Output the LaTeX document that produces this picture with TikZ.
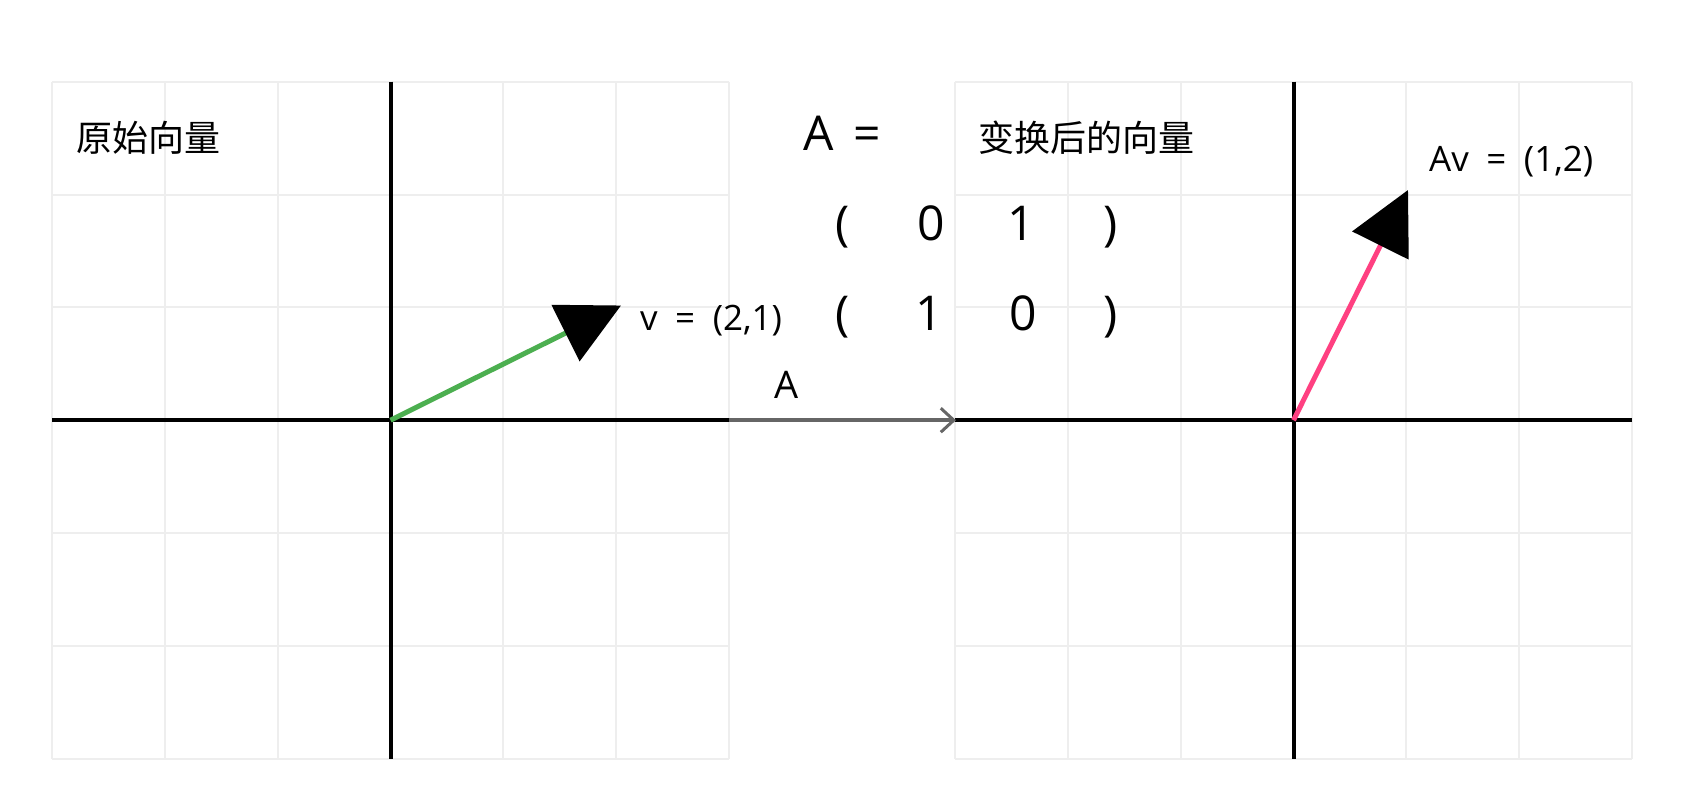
\documentclass[tikz,border=0pt]{standalone}
\usepackage{fontspec}
\setmainfont{Open Sans}
\newfontfamily\cjk{Noto Sans CJK SC}
\usetikzlibrary{arrows.meta}
\definecolor{gridgray}{HTML}{EEEEEE}
\definecolor{vgreen}{HTML}{4CAF50}
\definecolor{vpink}{HTML}{FF4081}
\definecolor{arrgray}{HTML}{666666}
\newcommand{\wsp}{\hspace{0.5em}}
\begin{document}
\begin{tikzpicture}[x=1pt,y=-1pt,
  gridline/.style={draw=gridgray,line width=2pt},
  axisline/.style={draw=black,line width=4pt},
  vec/.style={line width=5pt,-{Triangle[length=62pt,width=62pt,color=black]}},
  maparrow/.style={draw=arrgray,line width=3.5pt,-{Straight Barb[length=13pt,width=24pt,line width=3pt]}},
  title/.style={inner sep=0pt,anchor=base west,font=\cjk\fontsize{36}{40}\selectfont},
  lbl/.style={inner sep=0pt,anchor=base west,font=\fontsize{35}{40}\selectfont},
  big/.style={inner sep=0pt,anchor=base,font=\fontsize{48}{56}\selectfont}]
\useasboundingbox (0,0) rectangle (1696,796);
\fill[white] (0,0) rectangle (1696,796);
\def\u{112.83}
% grids
\foreach \k in {0,...,6}{
  \draw[gridline] ({52+\k*\u},81.7) -- ({52+\k*\u},758.7);
  \draw[gridline] (52,{81.7+\k*\u}) -- (729,{81.7+\k*\u});
  \draw[gridline] ({955+\k*\u},81.7) -- ({955+\k*\u},758.7);
  \draw[gridline] (955,{81.7+\k*\u}) -- (1632,{81.7+\k*\u});
}
% axes
\draw[axisline] (52,420.2) -- (729,420.2);
\draw[axisline] (390.5,81.7) -- (390.5,758.7);
\draw[axisline] (955,420.2) -- (1632,420.2);
\draw[axisline] (1293.5,81.7) -- (1293.5,758.7);
% named points
\coordinate (o1) at (390.5,420.2);
\coordinate (v1) at (621,305.5);
\coordinate (o2) at (1293.5,420.2);
\coordinate (v2) at (1408,190);
\coordinate (leftedge) at (729,420.2);
\coordinate (rightedge) at (956,420.2);
% vectors
\draw[vec,vgreen] (o1) -- (v1);
\draw[vec,vpink] (o2) -- (v2);
\draw[maparrow] (leftedge) -- (rightedge);
% texts
\node[title] (t1) at (76,151) {原始向量};
\node[title] (t2) at (978,151) {变换后的向量};
\node[lbl] (vl) at (640,330) {v\wsp=\wsp(2,1)};
\node[lbl] (avl) at (1429,171.7) {Av\wsp=\wsp(1,2)};
\node[inner sep=0pt,anchor=base,font=\fontsize{38}{44}\selectfont] (al) at (786.5,398) {A};
\node[inner sep=0pt,anchor=base west,font=\fontsize{48}{56}\selectfont] (aeq) at (803,150) {A\hspace{0.42em}=};
\node[big] (p1) at (843,240) {(};
\node[big] (m11) at (931,240) {0};
\node[big] (m12) at (1021,240) {1};
\node[big] (q1) at (1111,240) {)};
\node[big] (p2) at (843,330) {(};
\node[big] (m21) at (929,330) {1};
\node[big] (m22) at (1023,330) {0};
\node[big] (q2) at (1111,330) {)};
\end{tikzpicture}
\end{document}
